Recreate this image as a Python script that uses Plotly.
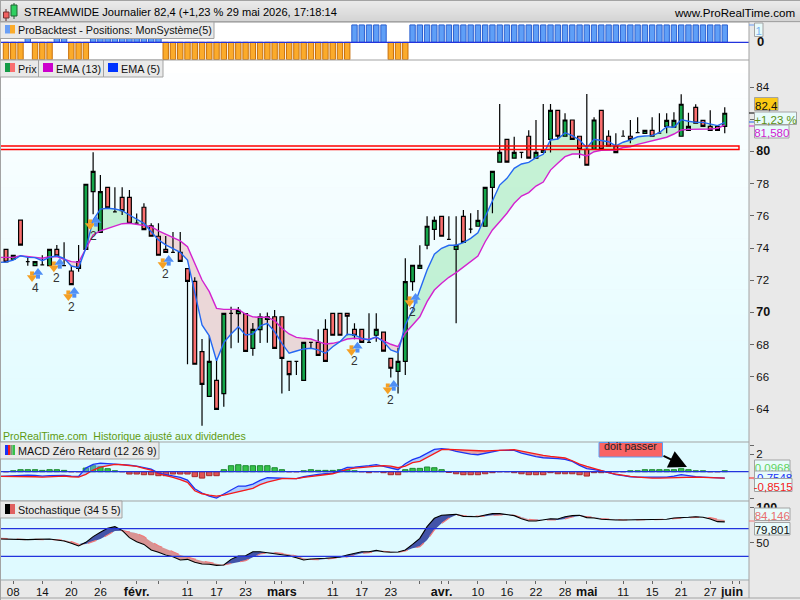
import numpy as np
import plotly.graph_objects as go

# price data (100 sessions)
opens = [73.92,73.3,75.73,73.15,72.9,72.95,72.9,73.92,72.9,72.57,
         73.15,73.92,77.5,74.97,77.77,76.24,77.15,77.15,75.54,76.53,
         75.37,74.73,73.92,73.73,73.73,72.72,71.93,67.56,64.79,65.78,
         64.95,69.94,69.93,69.93,67.77,68.93,69.57,69.73,69.73,66.96,
         66.96,65.78,68.14,68.14,68.95,69.94,69.94,69.94,68.95,68.95,
         68.14,68.58,68.77,67.15,66.34,66.96,71.91,72.74,74.17,75.16,
         75.97,74.54,73.92,75.97,75.17,75.35,75.35,77.77,79.33,80.75,
         79.58,79.94,80.94,79.58,79.94,80.75,82.55,80.94,81.95,80.94,
         80.13,80.13,82.55,80.94,80.32,80.94,80.94,81.17,81.12,81.31,
         81.13,81.56,81.5,80.94,81.31,82.74,81.93,81.56,81.56,81.56]
closes = [73.13,73.55,74.18,73.15,73.15,72.95,73.92,73.52,72.9,71.72,
          72.74,77.96,78.76,77.5,76.5,76.24,76.32,75.53,75.54,75.14,
          74.73,73.55,73.73,73.73,73.17,71.93,66.78,65.53,66.96,63.98,
          69.94,69.94,70.13,67.58,68.95,69.73,69.73,67.77,67.15,66.13,
          66.96,68.14,68.14,67.33,66.96,68.58,68.58,69.76,68.58,68.14,
          68.14,68.95,67.59,66.53,66.96,71.91,72.93,72.93,75.35,75.72,
          74.73,74.54,74.17,74.35,75.17,75.72,77.77,78.76,79.94,79.33,
          79.94,79.94,79.58,79.94,80.11,82.55,80.94,81.95,80.75,80.13,
          79.14,81.95,80.13,80.32,79.93,80.94,80.75,81.17,81.31,80.94,
          81.13,81.93,81.93,82.93,81.56,81.75,81.56,81.31,81.31,82.37]
highs = [73.92,73.55,75.73,73.45,73.15,73.55,73.92,74.19,74.35,72.88,
         74.19,77.96,79.95,78.53,77.77,77.77,77.77,77.6,76.15,76.78,
         75.53,75.53,74.74,75.0,75.0,72.72,72.18,68.35,68.55,67.05,
         69.94,70.35,70.33,69.93,69.34,69.94,70.0,70.15,69.73,66.96,
         66.96,68.14,68.14,68.95,69.57,69.94,69.94,69.94,69.32,68.95,
         69.94,69.94,68.77,67.15,67.8,73.36,72.93,74.17,75.97,75.95,
         75.97,75.97,75.97,76.36,76.16,76.36,77.77,78.76,82.94,80.75,
         80.91,79.94,81.31,81.95,82.94,82.94,82.55,82.37,81.95,80.94,
         83.56,82.12,82.55,81.31,81.12,81.31,81.95,82.12,81.31,82.12,
         82.37,82.37,82.43,83.55,82.4,82.93,81.93,82.55,81.56,82.74]
lows = [73.13,73.3,74.18,72.9,72.9,72.95,72.9,73.52,72.9,71.72,
        72.53,73.92,76.1,74.97,76.5,76.24,76.05,75.53,75.54,75.14,
        74.73,73.55,73.73,73.73,73.17,66.78,66.78,62.96,64.79,63.98,
        64.14,67.77,68.12,67.58,67.31,68.1,68.12,67.77,64.97,65.12,
        66.11,65.78,67.77,67.33,66.96,68.58,68.58,68.58,68.33,68.14,
        68.14,68.18,67.59,65.95,64.97,66.11,71.35,72.74,73.92,74.5,
        74.73,74.54,69.33,74.35,74.92,75.35,75.35,76.16,79.33,79.33,
        79.58,79.58,79.58,79.58,79.94,79.93,80.75,80.94,80.75,79.57,
        79.14,80.13,80.13,80.32,79.93,80.94,80.5,81.17,81.12,80.94,
        81.13,81.13,81.5,80.94,81.31,81.75,81.56,81.31,81.31,81.13]

# indicator lines carry one more value: the session just left of the visible window
ema5 = [73.1,73.13,73.25,73.52,73.42,73.40,73.21,73.42,73.52,73.36,72.88,
        72.78,73.98,75.74,76.42,76.47,76.42,76.32,76.05,75.78,75.53,
        75.01,74.5,74.19,73.98,73.73,73.25,71.19,69.22,68.55,67.0,
        68.12,68.66,69.11,68.6,68.66,69.16,69.32,68.8,68.08,67.46,
        67.6,67.73,67.77,67.67,67.46,67.87,68.18,68.64,68.6,68.39,
        68.29,68.49,68.18,67.67,67.5,69.22,70.15,71.39,72.63,73.61,
        73.98,74.17,74.17,74.33,74.6,74.95,75.95,76.98,77.91,78.33,
        78.95,79.22,79.32,79.61,79.82,80.71,80.77,81.16,80.98,80.71,
        80.23,80.75,80.66,80.6,80.34,80.57,80.71,80.91,80.96,80.98,
        81.16,81.53,81.5,81.97,81.87,81.8,81.8,81.68,81.6,81.8]
ema13 = [73.42,73.42,73.42,73.52,73.46,73.40,73.36,73.46,73.46,73.30,73.15,
         73.11,73.94,74.81,75.07,75.22,75.37,75.51,75.54,75.47,75.43,
         75.33,75.06,74.87,74.67,74.44,74.08,73.05,72.01,71.29,70.25,
         70.19,70.19,70.19,69.9,69.72,69.7,69.7,69.49,69.01,68.66,
         68.45,68.39,68.35,68.18,68.04,68.08,68.18,68.35,68.39,68.35,
         68.33,68.45,68.24,68.02,67.87,68.72,69.22,69.73,70.67,71.39,
         71.81,72.18,72.47,72.8,73.15,73.5,74.39,75.12,75.63,76.16,
         76.78,77.23,77.44,77.85,78.1,78.84,79.26,79.67,79.84,79.84,
         79.72,79.98,80.07,80.09,80.09,80.24,80.29,80.44,80.54,80.65,
         80.75,80.88,81.08,81.33,81.37,81.37,81.39,81.39,81.43,81.64]

# backtest position: 1 long, -1 short
position = [-1,-1,-1,1,-1,-1,-1,1,1,-1,-1,-1] + [1]*10 + [-1]*26 + [1]*5 + [-1]*3 + [1]*44

macd_line = [-.53,-.49,-.41,-.34,-.38,-.41,-.49,-.45,-.41,-.41,-.49,
             -.53,.41,.83,.98,.94,.90,.83,.75,.64,.45,
             .30,-.15,-.30,-.41,-.64,-.94,-1.92,-2.41,-2.75,-2.98,
             -2.49,-2.07,-1.62,-1.62,-1.39,-.98,-.68,-.72,-.72,-.75,
             -.79,-.57,-.41,-.30,-.23,-.15,.15,.49,.53,.57,
             .68,.79,.60,.41,.23,.90,1.36,1.66,2.11,2.53,
             2.60,2.53,2.30,2.11,2.0,1.92,2.11,2.30,2.41,2.41,
             2.41,2.11,1.89,1.70,1.58,1.55,1.47,1.39,1.17,.72,
             .34,.23,.11,-.11,-.34,-.45,-.57,-.60,-.60,-.60,
             -.60,-.60,-.49,-.34,-.45,-.57,-.60,-.64,-.68,-.72]
macd_signal = [-.53,-.53,-.49,-.49,-.53,-.57,-.60,-.57,-.53,-.49,-.57,
               -.60,-.30,.19,.53,.72,.83,.79,.68,.60,.38,
               .19,-.23,-.41,-.64,-.90,-1.21,-2.15,-2.49,-2.64,-2.75,
               -2.64,-2.45,-2.30,-2.11,-1.89,-1.47,-1.17,-.98,-.79,-.79,
               -.79,-.64,-.53,-.41,-.34,-.23,0,.26,.41,.49,
               .57,.68,.68,.64,.45,.64,1.02,1.17,1.58,2.04,
               2.49,2.53,2.49,2.41,2.38,2.30,2.34,2.38,2.41,2.45,
               2.49,2.34,2.15,2.0,1.85,1.73,1.66,1.55,1.24,.87,
               .60,.34,.11,-.11,-.26,-.41,-.53,-.60,-.68,-.72,
               -.72,-.68,-.68,-.64,-.60,-.60,-.64,-.68,-.72,-.72]
macd_hist = [0,.11,.23,.23,.23,.15,.23,.23,.15,0,
             0,.41,.68,.56,.34,.11,0,-.26,-.26,-.34,
             -.34,-.45,-.45,-.26,-.26,-.26,-.56,-.72,-.45,-.45,
             .23,.68,.79,.68,.68,.68,.68,.45,.23,0,
             0,.11,.23,.15,.15,.15,.23,.23,.11,0,
             -.11,0,-.11,-.34,-.34,.23,.38,.38,.53,.45,
             .23,-.08,-.23,-.34,-.34,-.34,-.23,-.11,0,0,
             -.11,-.23,-.34,-.34,-.34,-.11,-.23,-.23,-.23,-.34,
             -.49,-.11,-.11,-.08,0,0,.11,.11,.23,.23,
             .23,.23,.23,.34,.23,.11,.11,0,0,.11]

stoch_k = [55.1,54.6,54.1,54.1,54.1,54.6,55.1,55.1,53.6,52.2,48.8,
           44.9,50.2,58.5,64.7,70.5,72.9,67.6,57,51.2,47.3,
           39.1,35.8,31.9,29.5,24.6,25.6,21.3,18.8,18.4,16.9,
           17.4,25.6,30.4,30.9,36.7,36.7,35.3,34.3,32.9,30.9,
           28,24.6,26.1,26.1,27.1,28,29,31.9,34.3,36.7,
           36.7,38.6,36.7,35.8,36.2,39.1,47.3,56,72.9,85,
           89.4,89.8,90.8,87.9,87.4,87.4,89.8,91.8,91.8,90.3,
           88.9,84.5,81.2,81.2,82.6,84.5,84.1,87.4,88.9,89.4,
           86,85.5,83.6,82.6,82.6,82.6,82.6,83.6,83.1,83.1,
           83.6,83.6,85.5,86.5,86.5,87.4,86.5,84.1,80.2,79.8]
stoch_d = [56.1,55.6,54.1,54.1,54.1,54.6,54.6,54.6,54.1,53.6,51.2,
           47.3,47.8,51.2,55.1,60.9,66.7,67.1,65.7,63.3,58.5,
           51.2,45.4,41.5,36.7,31.9,29.5,26.1,23.2,20.8,19.3,
           17.4,19.8,21.3,23.7,28.5,33.3,34.8,35.3,34.3,32.9,
           30.4,27.1,25.6,25.1,26.1,27.1,28,29,31.9,34.3,
           35.3,37.2,37.2,36.2,35.8,37.7,41.5,44,53.6,68.1,
           77.8,85,89.8,88.9,88.4,87.9,87.9,89.4,90.3,90.3,
           89.4,86.9,83.6,82.6,82.6,82.6,82.6,84.1,86.9,88.4,
           87.9,86.5,84.5,83.6,83.1,82.6,82.6,82.6,82.6,83.1,
           83.1,83.6,84.5,85.5,86,86.5,86.5,86,83.6,82.6]

# signal markers: bar index, price of the arrows, number shown below
signal_bars = [4,7,9,12,22,48,53,56]
signal_prices = [72.26,72.88,71.08,75.49,73.07,67.67,65.3,70.71]
signal_counts = ["4","2","2","2","2","2","2","2"]

BOLD = '<span style="font-size:12.5px"><b>%s</b></span>'
tick_bars = [1,5,9,13,18,21,25,29,33,37,38,41,45,49,53,57,60,61,65,69,73,77,80,85,89,93,97,100,101]
tick_labels = ["08","14","20","26",BOLD % "févr.","","11","17","23","",BOLD % "mars","","11","17","23","",
               BOLD % "avr.","","10","16","22","28",BOLD % "mai","11","15","21","27",BOLD % "juin",""]
price_ticks = [64,66,68,70,72,74,76,78,80,82,84]
price_labels = ["64","66","68",BOLD % "70","72","74","76","78",BOLD % "80","","84"]

FONT = "Liberation Sans"
TEXT = 10.8
GRID = "#a3a3a3"
bars = list(range(len(closes)))
line_bars = [-1] + bars
shapes = []
notes = []


# pixel helpers for the chrome around the panels
def fx(v):
    return v / 800


def fy(v):
    return 1 - v / 600


def box(x0, y0, x1, y1, fill=None, line=None, width=1, layer="above", label=None):
    s = dict(type="rect", xref="paper", yref="paper", x0=fx(x0), x1=fx(x1), y0=fy(y0), y1=fy(y1),
             fillcolor=fill or "rgba(0,0,0,0)", line=dict(color=line or "rgba(0,0,0,0)", width=width if line else 0),
             layer=layer)
    if label:
        s["label"] = label
    shapes.append(s)


def rule(x0, y0, x1, y1, color=GRID, width=1):
    shapes.append(dict(type="line", xref="paper", yref="paper", x0=fx(x0), x1=fx(x1), y0=fy(y0), y1=fy(y1),
                       line=dict(color=color, width=width), layer="above"))


def gradient(x0, y0, x1, y1, top, bottom, steps=30):
    c0, c1 = np.array(top), np.array(bottom)
    edges = np.linspace(y0, y1, steps + 1)
    for k in range(steps):
        c = c0 + (c1 - c0) * k / (steps - 1)
        color = "rgb(%d,%d,%d)" % tuple(c)
        box(x0, edges[k], x1, edges[k + 1] + 0.5, fill=color, layer="below")


def note(x, y, text, size=TEXT, color="#111111", anchor="left"):
    notes.append(dict(xref="paper", yref="paper", x=fx(x), y=fy(y), text=text, showarrow=False,
                      xanchor=anchor, yanchor="middle", font=dict(family=FONT, size=size, color=color)))


def tag(y0, y1, text, color, fill="#e8fbfb", x0=754.5, x1=790):
    box(x0, y0, x1, y1, fill=fill, line=GRID,
        label=dict(text=text, textposition="middle center", font=dict(family=FONT, size=TEXT + 0.7, color=color)))


def band(fig, a, b, up, down, yaxis, zorder=0):
    # two fills between a and b, one where a is above b and one where it is below
    a, b = np.array(a), np.array(b)
    for edge, color in ((np.maximum(a, b), up), (np.minimum(a, b), down)):
        fig.add_trace(go.Scatter(x=line_bars, y=b, mode="lines", line=dict(width=0), yaxis=yaxis, zorder=zorder,
                                 hoverinfo="skip", showlegend=False))
        fig.add_trace(go.Scatter(x=line_bars, y=edge, mode="lines", line=dict(width=0), fill="tonexty",
                                 fillcolor=color, yaxis=yaxis, zorder=zorder, hoverinfo="skip", showlegend=False))


fig = go.Figure()

# backtest panel
fig.add_trace(go.Bar(x=bars, y=position, yaxis="y2", width=0.74,
                     marker=dict(color=["#5f9ff7" if p > 0 else "#fbab2b" for p in position],
                                 line=dict(color=["#2a5fd0" if p > 0 else "#c9700a" for p in position], width=1))))

# main panel
band(fig, ema5, ema13, "rgba(170,235,190,0.65)", "rgba(235,190,190,0.6)", "y", zorder=-1)
fig.add_trace(go.Candlestick(x=bars, open=opens, high=highs, low=lows, close=closes, yaxis="y", zorder=0,
                             increasing=dict(fillcolor="#14a64a", line=dict(color="#000000", width=1.2)),
                             decreasing=dict(fillcolor="#fa6f6f", line=dict(color="#000000", width=1.2)),
                             whiskerwidth=0))
fig.add_trace(go.Scatter(x=line_bars, y=ema13, mode="lines", yaxis="y", zorder=1, line=dict(color="#d322cf", width=1.4)))
fig.add_trace(go.Scatter(x=line_bars, y=ema5, mode="lines", yaxis="y", zorder=1, line=dict(color="#2468f2", width=1.4)))

# signal arrows, built from a head and a stem marker
signal_bars = np.array(signal_bars)
signal_prices = np.array(signal_prices)
for dx, dy, symbol, color in ((-0.41, 0, "triangle-down", "#f4a024"), (0.41, 0.12, "triangle-up", "#4f8ff5")):
    head = -0.1 if symbol == "triangle-down" else 0.1
    fig.add_trace(go.Scatter(x=signal_bars + dx, y=signal_prices + dy - head * 1.6, mode="markers", yaxis="y", zorder=2,
                             marker=dict(symbol="square", size=4, color=color)))
    fig.add_trace(go.Scatter(x=signal_bars + dx, y=signal_prices + dy + head, mode="markers", yaxis="y", zorder=2,
                             marker=dict(symbol=symbol, size=9, color=color)))

# macd panel
fig.add_trace(go.Bar(x=bars, y=macd_hist, yaxis="y3", width=0.74,
                     marker=dict(color=["#35c24a" if h > 0 else "#e05353" for h in macd_hist],
                                 line=dict(color=["#1a8a30" if h > 0 else "#a52a2a" for h in macd_hist], width=1))))
band(fig, macd_line, macd_signal, "rgba(110,150,255,0.45)", "rgba(230,100,100,0.55)", "y3")
fig.add_trace(go.Scatter(x=line_bars, y=macd_line, mode="lines", yaxis="y3", line=dict(color="#1b34f5", width=1.3)))
fig.add_trace(go.Scatter(x=line_bars, y=macd_signal, mode="lines", yaxis="y3", line=dict(color="#f51b1b", width=1.3)))

# stochastic panel
band(fig, stoch_k, stoch_d, "rgba(50,65,160,0.9)", "rgba(215,135,135,0.9)", "y4")
fig.add_trace(go.Scatter(x=line_bars, y=stoch_d, mode="lines", yaxis="y4", line=dict(color="#f07a7a", width=1.2, dash="dash")))
fig.add_trace(go.Scatter(x=line_bars, y=stoch_k, mode="lines", yaxis="y4", line=dict(color="#000000", width=1.1)))

# backgrounds
gradient(0, 22, 749, 60, (255, 255, 255), (255, 255, 255), steps=2)
gradient(0, 60, 749, 442, (255, 255, 255), (224, 252, 255))
gradient(0, 442, 749, 580, (223, 250, 255), (223, 250, 255), steps=2)
gradient(0, 0, 800, 22, (236, 236, 236), (212, 212, 212), steps=22)

# reference lines
shapes.append(dict(type="rect", xref="paper", yref="y", x0=0, x1=739 / 800, y0=80.12, y1=80.34,
                   line=dict(color="#ff0000", width=1.4), fillcolor="rgba(0,0,0,0)", layer="above"))
for yref, level in (("y2", 0), ("y3", 0), ("y4", 70), ("y4", 30)):
    shapes.append(dict(type="line", xref="paper", yref=yref, x0=0, x1=749 / 800, y0=level, y1=level,
                       line=dict(color="#2233dd", width=1.2), layer="above"))

# panel frames
for y in (22, 60, 442, 501, 580):
    rule(0, y, 749, y)
rule(749, 22, 749, 598)
rule(0.5, 0, 0.5, 600)
rule(0, 0.5, 800, 0.5)
rule(0, 21.5, 800, 21.5)
rule(0, 598, 800, 598)

# header
rule(6, 9, 6, 21, "#5a2020")
box(3.5, 12, 9, 18, fill="#f06060", line="#703030")
rule(14, 3, 14, 19, "#205a30")
box(11, 5, 17, 16, fill="#2fd060", line="#206030")
note(22.2, 11.5, "STREAMWIDE Journalier 82,4 (+1,23 % 29 mai 2026, 17:18:14", size=11.1, color="#000000")
note(797, 12, "www.ProRealTime.com", size=11.6, color="#000000", anchor="right")

# legends
box(0, 22, 214, 38.5, fill="#e9e9e9", line=GRID)
box(5, 25, 10, 33.5, fill="#6a9ff5")
box(10, 25, 15, 33.5, fill="#fbab2b")
note(15.5, 30, "ProBacktest - Positions: MonSystème(5)")

box(0, 60, 38.5, 77, fill="#e9e9e9", line=GRID)
box(5, 63, 10, 72, fill="#159a46")
box(10, 63, 15, 72, fill="#fa6f6f")
note(15.5, 69, "Prix")
box(38.5, 60, 103.5, 77, fill="#e9e9e9", line=GRID)
box(43, 63, 53, 72, fill="#cc00cc")
note(53.5, 69, "EMA (13)")
box(103.5, 60, 163, 77, fill="#e9e9e9", line=GRID)
box(108, 63, 118, 72, fill="#0033ff")
note(118.5, 69, "EMA (5)")

note(0.5, 436, "ProRealTime.com&nbsp;&nbsp;Historique ajusté aux dividendes", size=10.6, color="#5f9a10")

box(0, 442, 159, 459, fill="#e9e9e9", line=GRID)
box(5, 445, 8, 455, fill="#1b34f5")
box(8, 445, 10.5, 455, fill="#f51b1b")
box(10.5, 445, 12.5, 455, fill="#7a9a7a")
box(12.5, 445, 15, 455, fill="#35c24a")
note(15.5, 450.5, "MACD Zéro Retard (12 26 9)")

box(0, 501, 122, 518, fill="#e9e9e9", line=GRID)
box(5, 504, 10, 514, fill="#000000")
box(10, 504, 15, 514, fill="#e06060")
note(15.5, 509.5, "Stochastique (34 5 5)")

# remark on the macd panel
shapes.append(dict(type="rect", xref="paper", yref="paper", x0=fx(599), x1=fx(662.5), y0=fy(457), y1=fy(442.5),
                   fillcolor="#f96464", line=dict(color="#5b9cf5", width=1), layer="above"))
note(630.5, 446, "doit passer", anchor="center", color="#222222")
notes.append(dict(xref="x", yref="y3", x=93.8, y=0.52, ax=-25, ay=-12, text=" ", showarrow=True, font=dict(size=1),
                  arrowhead=2, arrowsize=1.8, arrowwidth=2, arrowcolor="#000000"))

# signal counts
for bar, price, count in zip(signal_bars, signal_prices, signal_counts):
    notes.append(dict(xref="x", yref="y", x=bar, y=price, yshift=-11.5, text=count, showarrow=False,
                      font=dict(family=FONT, size=12, color="#333333")))

# right scale tags
rule(749, 25, 754, 25, "#6a9ff5")
tag(23, 36.5, "1", "#7ab0f0", x0=754.5, x1=763)
note(755, 41, "<b>0</b>", size=13)

rule(749, 113, 755, 113, "#000000")
rule(749, 122, 755, 122, "#2468f2")
rule(749, 126, 755, 126, "#d322cf")
tag(97.5, 110.5, "82,4", "#111111", fill="#fbc915", x1=778)
tag(125, 138, "81,580", "#d322cf", x1=789)
tag(112, 124.5, "+1,23 %", "#5a8f10", x1=796.5)

rule(749, 478, 755, 478, "#f51b1b")
tag(460, 472, "0,0968", "#5fd35f", x1=790)
tag(471, 481.5, "-0,7548", "#1b34f5", x1=791)
tag(478.5, 491.5, "-0,8515", "#f51b1b", x1=792)

rule(749, 521, 755, 521, "#f07a7a")
tag(508, 520.5, "84,146", "#e87070", x1=790)
tag(522.5, 535, "79,801", "#111111", x1=790)

x_right = 749 / 800
fig.update_layout(
    width=800, height=600, autosize=False,
    margin=dict(l=0, r=0, t=0, b=0),
    paper_bgcolor="#e9e9e9",
    plot_bgcolor="rgba(0,0,0,0)",
    showlegend=False,
    barmode="overlay",
    boxgap=0.25,
    font=dict(family=FONT, size=12, color="#111111"),
    shapes=shapes,
    annotations=notes,
    xaxis=dict(domain=[0, x_right], range=[-0.826, 102.34], anchor="y4", showgrid=False, zeroline=False,
               rangeslider=dict(visible=False), tickmode="array", tickvals=tick_bars, ticktext=tick_labels,
               ticks="outside", ticklen=3, tickcolor="#666666", tickfont=dict(size=11.5, color="#111111"),
               ticklabelstandoff=-2, showline=False),
    yaxis=dict(domain=[fy(442), fy(60)], range=[84 - (442 - 87) / 16.1, 84 + 27 / 16.1], side="right", anchor="x",
               showgrid=False, zeroline=False, tickmode="array", tickvals=price_ticks, ticktext=price_labels,
               ticks="outside", ticklen=4, tickcolor="#666666", tickfont=dict(size=11.5)),
    yaxis2=dict(domain=[fy(60), fy(22)], range=[-1.02, 1.17], side="right", anchor="x", showgrid=False,
                zeroline=False, showticklabels=False),
    yaxis3=dict(domain=[fy(501), fy(442)], range=[-3.31, 3.36], side="right", anchor="x", showgrid=False,
                zeroline=False, tickmode="array", tickvals=[3, 2, -3], ticktext=["", "2", ""], ticks="outside",
                ticklen=4, tickcolor="#666666", tickfont=dict(size=11.5)),
    yaxis4=dict(domain=[fy(580), fy(501)], range=[-4.3, 110.1], side="right", anchor="x", showgrid=False,
                zeroline=False, tickmode="array", tickvals=[100, 50], ticktext=[BOLD % "100", "50"], ticks="outside",
                ticklen=4, tickcolor="#666666", tickfont=dict(size=11.5)),
)

fig.write_html("out.html", config={"displayModeBar": False},
               post_script="document.body.style.margin='0';document.body.style.overflow='hidden';")
